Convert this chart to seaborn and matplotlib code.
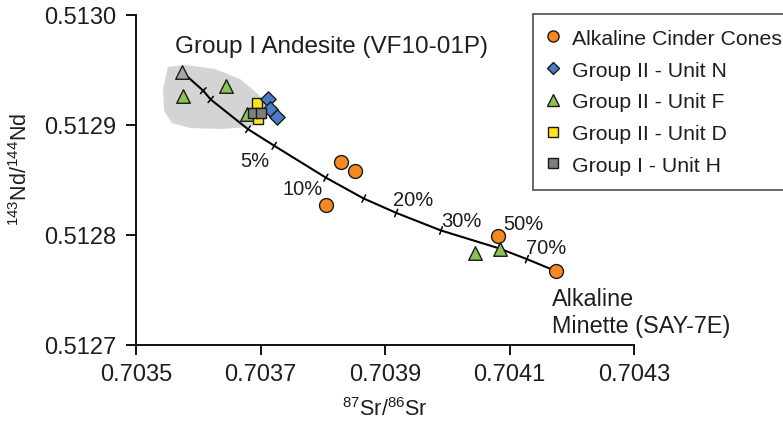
import numpy as np
import matplotlib
matplotlib.use("Agg")
import matplotlib.pyplot as plt
from matplotlib.lines import Line2D
from matplotlib.patches import Polygon
import seaborn as sns

# 87Sr/86Sr and 143Nd/144Nd for each sample group
cinder_sr = [0.703829, 0.703852, 0.703806, 0.704081, 0.704174]
cinder_nd = [0.512866, 0.512858, 0.512827, 0.512799, 0.512767]
unit_n_sr = [0.703712, 0.703716, 0.703726]
unit_n_nd = [0.512923, 0.512914, 0.512907]
unit_f_sr = [0.703576, 0.703645, 0.703679, 0.704045, 0.704084]
unit_f_nd = [0.512926, 0.512935, 0.512910, 0.512784, 0.512787]
unit_d_sr = [0.703694, 0.703696]
unit_d_nd = [0.512920, 0.512905]
unit_h_sr = [0.703688, 0.703701]
unit_h_nd = [0.512911, 0.512911]
andesite_sr = [0.703574]
andesite_nd = [0.512948]

# Mixing curve between the andesite and minette end-members
mix_sr = [0.703574, 0.703608, 0.703620, 0.703680, 0.703722, 0.703805,
          0.703866, 0.703918, 0.703990, 0.704082, 0.704128, 0.704175]
mix_nd = [0.512948, 0.512931, 0.512923, 0.512896, 0.512881, 0.512852,
          0.512833, 0.512820, 0.512804, 0.512788, 0.512778, 0.512767]
tick_sr = [0.703608, 0.703620, 0.703680, 0.703722, 0.703805,
           0.703866, 0.703918, 0.703990, 0.704082, 0.704128]
tick_nd = [0.512931, 0.512923, 0.512896, 0.512881, 0.512852,
           0.512833, 0.512820, 0.512804, 0.512788, 0.512778]
mix_labels = ["5%", "10%", "20%", "30%", "50%", "70%"]
label_sr = [0.703668, 0.703736, 0.703913, 0.703990, 0.704090, 0.704126]
label_nd = [0.512863, 0.512837, 0.512827, 0.512808, 0.512805, 0.512784]

# Outline of the Group I andesite field
field_sr = [0.7035514, 0.7035787, 0.7036269, 0.7036671, 0.7036960, 0.7037120,
            0.7037088, 0.7036831, 0.7036349, 0.7035867, 0.7035578, 0.7035450,
            0.7035434]
field_nd = [0.5129525, 0.5129543, 0.5129507, 0.5129416, 0.5129280, 0.5129162,
            0.5129053, 0.5128980, 0.5128962, 0.5128971, 0.5129016, 0.5129125,
            0.5129325]

x_ticks = [0.7035, 0.7037, 0.7039, 0.7041, 0.7043]
y_ticks = [0.5127, 0.5128, 0.5129, 0.5130]

sns.set_style("ticks")
plt.rcParams["font.family"] = ["Liberation Sans", "DejaVu Sans"]
plt.rcParams["mathtext.fontset"] = "custom"
plt.rcParams["mathtext.rm"] = "Liberation Sans"
plt.rcParams["mathtext.it"] = "Liberation Sans:italic"
plt.rcParams["mathtext.bf"] = "Liberation Sans:bold"

TXT = "#1e1e1e"
EDGE = "#1a1a1a"
C_ORANGE = "#F5891F"
C_BLUE = "#4A7CC6"
C_GREEN = "#8DC257"
C_YELLOW = "#FFE31C"
C_GRAY = "#7E7E7E"
C_LGRAY = "#A6A6A6"

fig = plt.figure(figsize=(7.83, 4.31), dpi=100)
ax = fig.add_axes([136 / 783, 1 - 346 / 431, 498 / 783, 330.3 / 431])
ax.set_xlim(0.7035, 0.7043)
ax.set_ylim(0.5127, 0.5130)

# shaded andesite field
ax.add_patch(Polygon(np.column_stack([field_sr, field_nd]), closed=True,
                     facecolor="#D4D4D4", edgecolor="none", zorder=1))

# mixing curve with fraction ticks
sns.lineplot(x=mix_sr, y=mix_nd, color="black", linewidth=1.5, sort=False,
             estimator=None, ax=ax, zorder=2)
disp = ax.transData.transform(np.column_stack([mix_sr, mix_nd]))
inv = ax.transData.inverted()
for tx, ty in zip(tick_sr, tick_nd):
    i = int(np.argmin(np.hypot(np.array(mix_sr) - tx, (np.array(mix_nd) - ty) * 2)))
    a = disp[max(i - 1, 0)]
    b = disp[min(i + 1, len(disp) - 1)]
    d = (b - a) / np.hypot(*(b - a))
    n = np.array([-d[1], d[0]])
    p = ax.transData.transform((tx, ty))
    seg = inv.transform(np.array([p - 4 * n, p + 4 * n]))
    ax.plot(seg[:, 0], seg[:, 1], color="black", linewidth=1.1, zorder=2)

for lab, lx, ly in zip(mix_labels, label_sr, label_nd):
    ax.text(lx, ly, lab, fontsize=14.5, color=TXT, ha="left", va="baseline", zorder=3)

# sample groups
kw = dict(edgecolor=EDGE, linewidth=1.0, ax=ax, legend=False)
sns.scatterplot(x=cinder_sr, y=cinder_nd, marker="o", s=100, color=C_ORANGE, zorder=4, **kw)
sns.scatterplot(x=unit_f_sr, y=unit_f_nd, marker="^", s=95, color=C_GREEN, zorder=5, **kw)
sns.scatterplot(x=andesite_sr, y=andesite_nd, marker="^", s=95, color=C_LGRAY, zorder=5, **kw)
sns.scatterplot(x=unit_d_sr, y=unit_d_nd, marker="s", s=55, color=C_YELLOW, zorder=6, **kw)
sns.scatterplot(x=unit_n_sr, y=unit_n_nd, marker="D", s=60, color=C_BLUE, zorder=7, **kw)
sns.scatterplot(x=unit_h_sr, y=unit_h_nd, marker="s", s=55, color=C_GRAY, zorder=8, **kw)

# end-member labels
ax.text(0.703814, 0.512966, "Group I Andesite (VF10-01P)", fontsize=17.5,
        color=TXT, ha="center", va="baseline", clip_on=False)
ax.text(0.704169, 0.512736, "Alkaline", fontsize=16.8, color=TXT,
        ha="left", va="baseline", clip_on=False)
ax.text(0.704169, 0.512712, "Minette (SAY-7E)", fontsize=16.8, color=TXT,
        ha="left", va="baseline", clip_on=False)

# axes styling
sns.despine(ax=ax)
for s in ("left", "bottom"):
    ax.spines[s].set_linewidth(1.4)
    ax.spines[s].set_color("#111111")
ax.set_xticks(x_ticks)
ax.set_xticklabels([f"{v:.4f}" for v in x_ticks])
ax.set_yticks(y_ticks)
ax.set_yticklabels([f"{v:.4f}" for v in y_ticks])
ax.tick_params(axis="both", direction="out", length=7, width=1.4,
               color="#111111", labelsize=17, labelcolor=TXT)
ax.tick_params(axis="x", pad=6)
ax.tick_params(axis="y", pad=7)

ax.set_xlabel(r"$^{87}$Sr/$^{86}$Sr", fontsize=15.5, color=TXT)
ax.set_ylabel(r"$^{143}$Nd/$^{144}$Nd", fontsize=15.5, color=TXT)
ax.xaxis.label.set_va("center")
ax.yaxis.label.set_va("center")
ax.xaxis.set_label_coords(0.5, (346 - 410) / 330.3)
ax.yaxis.set_label_coords((21 - 136) / 498, (346 - 169) / 330.3)

handles = [
    Line2D([], [], linestyle="none", marker="o", markersize=8, markerfacecolor=C_ORANGE,
           markeredgecolor=EDGE, markeredgewidth=1.0, label="Alkaline Cinder Cones"),
    Line2D([], [], linestyle="none", marker="D", markersize=6.4, markerfacecolor=C_BLUE,
           markeredgecolor=EDGE, markeredgewidth=1.0, label="Group II - Unit N"),
    Line2D([], [], linestyle="none", marker="^", markersize=8, markerfacecolor=C_GREEN,
           markeredgecolor=EDGE, markeredgewidth=1.0, label="Group II - Unit F"),
    Line2D([], [], linestyle="none", marker="s", markersize=6.5, markerfacecolor=C_YELLOW,
           markeredgecolor=EDGE, markeredgewidth=1.0, label="Group II - Unit D"),
    Line2D([], [], linestyle="none", marker="s", markersize=6.5, markerfacecolor=C_GRAY,
           markeredgecolor=EDGE, markeredgewidth=1.0, label="Group I - Unit H"),
]
leg = fig.legend(handles=handles, loc="upper left",
                 bbox_to_anchor=(533.3 / 783, 1 - 15 / 431),
                 bbox_transform=fig.transFigure, borderaxespad=0,
                 fontsize=15.3, frameon=True, fancybox=False,
                 handlelength=0.5, handletextpad=0.6, borderpad=0.7,
                 labelspacing=0.6)
leg.get_frame().set_edgecolor("#333333")
leg.get_frame().set_linewidth(1.3)
for t in leg.get_texts():
    t.set_color(TXT)

fig.savefig("out.png", dpi=100, facecolor="white")
